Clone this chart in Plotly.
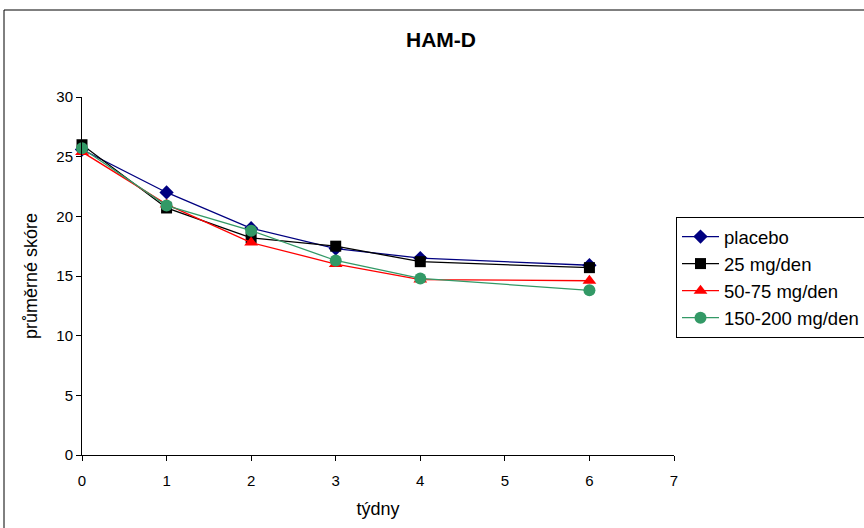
import plotly.graph_objects as go

# weeks of treatment
weeks = [0, 1, 2, 3, 4, 6]

# mean HAM-D score per group
placebo = [25.6, 22.0, 19.0, 17.3, 16.5, 15.9]
dose_25 = [26.0, 20.7, 18.2, 17.5, 16.2, 15.7]
dose_50_75 = [25.4, 21.0, 17.8, 16.0, 14.7, 14.6]
dose_150_200 = [25.7, 20.9, 18.8, 16.3, 14.8, 13.8]

series_names = ["placebo", "25 mg/den", "50-75 mg/den", "150-200 mg/den"]
series_values = [placebo, dose_25, dose_50_75, dose_150_200]
colors = ["#000080", "#000000", "#FF0000", "#339966"]
symbols = ["diamond", "square", "triangle-up", "circle"]
sizes = [11, 11, 12, 12]

x_ticks = [0, 1, 2, 3, 4, 5, 6, 7]
y_ticks = [0, 5, 10, 15, 20, 25, 30]

FONT = "Liberation Sans, Arial, sans-serif"

fig = go.Figure()
for name, vals, col, sym, sz in zip(series_names, series_values, colors, symbols, sizes):
    fig.add_trace(go.Scatter(
        x=weeks, y=vals, name=name, mode="lines+markers",
        line=dict(color=col, width=1.3),
        marker=dict(symbol=sym, size=sz, color=col),
        cliponaxis=False,
    ))

W, H = 864, 528
L, R, T, B = 82, 190, 97, 73
pw, ph = W - L - R, H - T - B


def px_x(px):
    return (px - L) / pw


def px_y(py):
    return (H - B - py) / ph


fig.update_layout(
    width=W, height=H,
    margin=dict(l=L, r=R, t=T, b=B, autoexpand=False),
    paper_bgcolor="white", plot_bgcolor="white",
    font=dict(family=FONT, color="black", size=15),
    title=dict(text="<b>HAM-D</b>", x=px_x(441), xref="paper", xanchor="center",
               y=1 - 40 / H, yanchor="middle", font=dict(size=21, family=FONT)),
    xaxis=dict(range=[0, 7], tickvals=x_ticks, showgrid=False, zeroline=False,
               showline=True, linecolor="black", linewidth=1,
               ticks="outside", ticklen=5, tickcolor="black",
               tickfont=dict(size=15), ticklabelstandoff=7,
               title=dict(text="týdny", font=dict(size=18), standoff=14)),
    yaxis=dict(range=[0, 30], tickvals=y_ticks, showgrid=False, zeroline=False,
               showline=True, linecolor="black", linewidth=1,
               ticks="outside", ticklen=5, tickcolor="black",
               tickfont=dict(size=15),
               title=dict(text="průměrné skóre", font=dict(size=18), standoff=14)),
    legend=dict(x=px_x(676), xanchor="left", y=px_y(217), yanchor="top",
                bordercolor="black", borderwidth=1, bgcolor="white",
                font=dict(size=18.5, family=FONT), itemwidth=37,
                tracegroupgap=0),
    shapes=[dict(type="rect", xref="paper", yref="paper",
                 x0=px_x(4), x1=px_x(W + 20), y0=px_y(H + 20), y1=px_y(10),
                 line=dict(color="black", width=1), layer="below")],
)

fig.write_html("out.html")
